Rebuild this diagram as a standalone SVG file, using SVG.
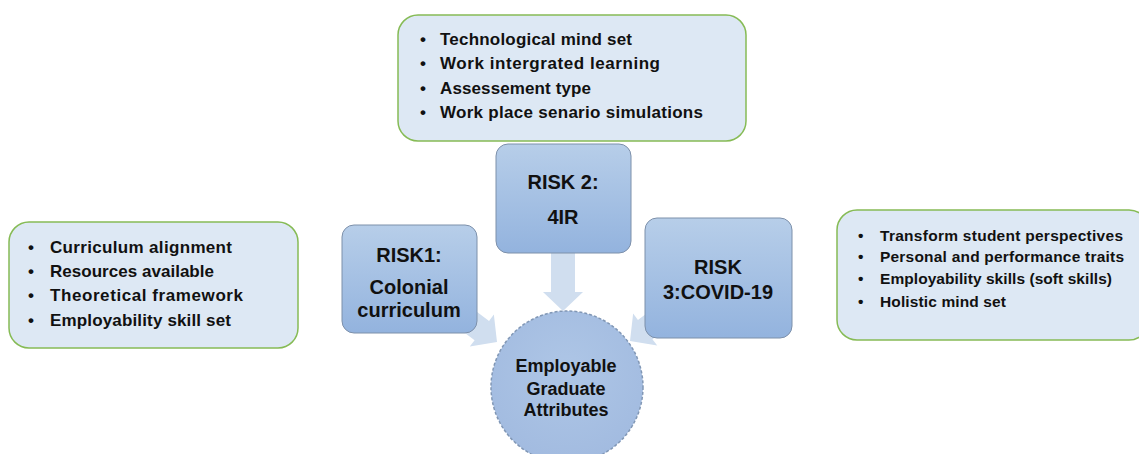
<svg xmlns="http://www.w3.org/2000/svg" width="1139" height="454" viewBox="0 0 1139 454">
<defs>
<linearGradient id="riskGrad" x1="0" y1="0" x2="0" y2="1">
<stop offset="0" stop-color="#b7cee9"/>
<stop offset="1" stop-color="#93b3de"/>
</linearGradient>
<radialGradient id="circGrad" cx="0.5" cy="0.4" r="0.6">
<stop offset="0" stop-color="#aec6e6"/>
<stop offset="1" stop-color="#a2bbe0"/>
</radialGradient>
<polygon id="arrow" points="-58,-12 -19,-12 -19,-20 0,0 -19,20 -19,12 -58,12"/>
</defs>
<style>
.note{fill:#dde8f4;stroke:#86bb55;stroke-width:1.5}
.risk{fill:url(#riskGrad);stroke:#7d90aa;stroke-width:1}
.circ{fill:url(#circGrad);stroke:#8197b5;stroke-width:1.5;stroke-dasharray:3 2}
.arr{fill:#d0deef}
text{font-family:"Liberation Sans",Arial,sans-serif;font-weight:bold;fill:#111}
.nt{font-size:17px}
.nr{font-size:15.5px}
.rt{font-size:20px;text-anchor:middle}
.ct{font-size:18px;text-anchor:middle}
</style>
<rect width="1139" height="454" fill="#ffffff"/>
<g id="connectors">
<use href="#arrow" class="arr" transform="translate(563,311) rotate(90)"/>
<use href="#arrow" class="arr" transform="translate(497,342) rotate(37)"/>
<use href="#arrow" class="arr" transform="translate(630,341) rotate(143)"/>
</g>
<g id="note-top">
<rect class="note" x="398" y="15" width="348" height="126" rx="20"/>
<text class="nt" x="420" y="45">•</text><text class="nt" x="440" y="45" textLength="192">Technological mind set</text>
<text class="nt" x="420" y="69">•</text><text class="nt" x="440" y="69" textLength="220">Work intergrated learning</text>
<text class="nt" x="420" y="94">•</text><text class="nt" x="440" y="94" textLength="151">Assessement type</text>
<text class="nt" x="420" y="118">•</text><text class="nt" x="440" y="118" textLength="263">Work place senario simulations</text>
</g>
<g id="note-left">
<rect class="note" x="9" y="222" width="289" height="126" rx="20"/>
<text class="nt" x="28" y="253">•</text><text class="nt" x="50" y="253" textLength="182">Curriculum alignment</text>
<text class="nt" x="28" y="277">•</text><text class="nt" x="50" y="277" textLength="164">Resources available</text>
<text class="nt" x="28" y="301">•</text><text class="nt" x="50" y="301" textLength="193">Theoretical framework</text>
<text class="nt" x="28" y="326">•</text><text class="nt" x="50" y="326" textLength="181">Employability skill set</text>
</g>
<g id="note-right">
<rect class="note" x="837" y="210" width="312" height="130" rx="20"/>
<text class="nr" x="858" y="241">•</text><text class="nr" x="880" y="241" textLength="243">Transform student perspectives</text>
<text class="nr" x="858" y="262">•</text><text class="nr" x="880" y="262" textLength="244">Personal and performance traits</text>
<text class="nr" x="858" y="284">•</text><text class="nr" x="880" y="284" textLength="232">Employability skills (soft skills)</text>
<text class="nr" x="858" y="307">•</text><text class="nr" x="880" y="307" textLength="126">Holistic mind set</text>
</g>
<g id="risk1">
<rect class="risk" x="342" y="225" width="135" height="108" rx="12"/>
<text class="rt" x="409" y="262">RISK1:</text>
<text class="rt" x="409" y="294">Colonial</text>
<text class="rt" x="409" y="317">curriculum</text>
</g>
<g id="risk2">
<rect class="risk" x="496" y="144" width="135" height="109" rx="12"/>
<text class="rt" x="563" y="189">RISK 2:</text>
<text class="rt" x="563" y="224">4IR</text>
</g>
<g id="risk3">
<rect class="risk" x="645" y="218" width="147" height="120" rx="12"/>
<text class="rt" x="718" y="274">RISK</text>
<text class="rt" x="718" y="299">3:COVID-19</text>
</g>
<g id="outcome">
<circle class="circ" cx="567" cy="387" r="76"/>
<text class="ct" x="566" y="372">Employable</text>
<text class="ct" x="566" y="395">Graduate</text>
<text class="ct" x="566" y="416">Attributes</text>
</g>
</svg>
